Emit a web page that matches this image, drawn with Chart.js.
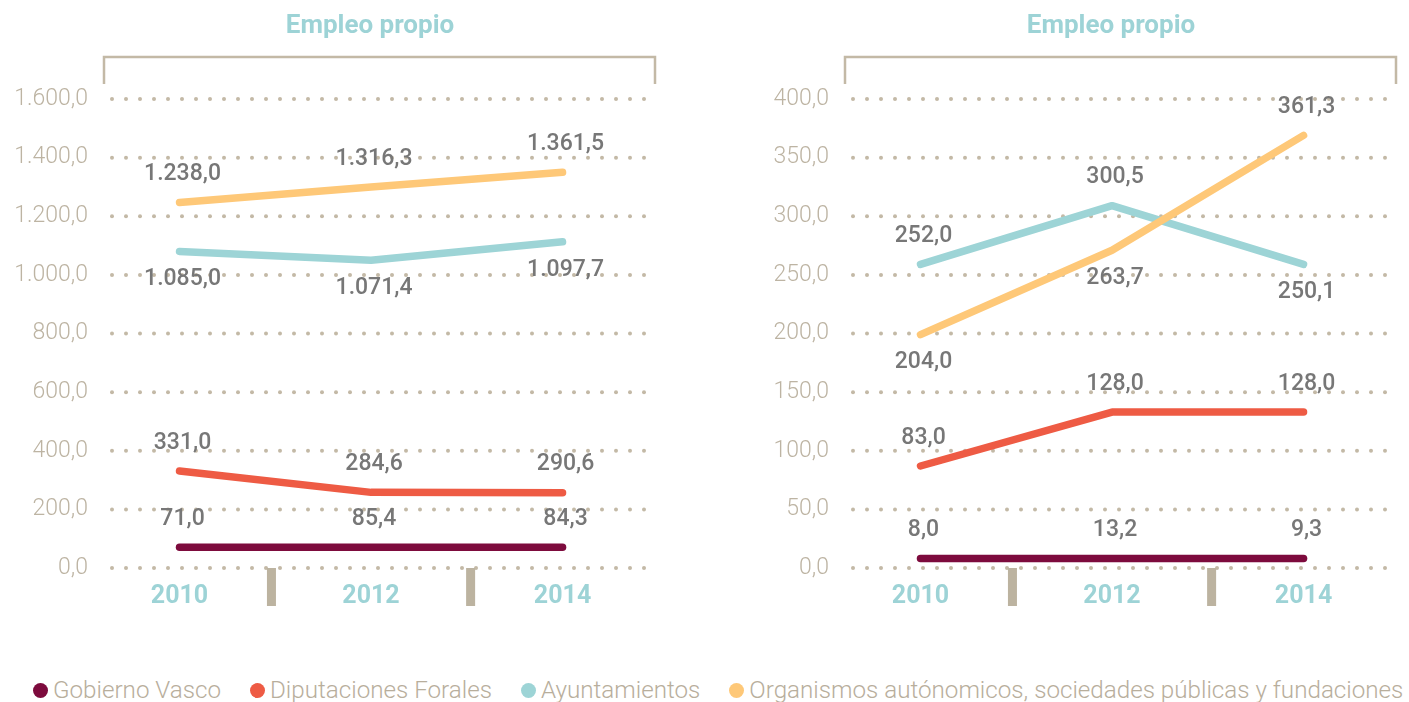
<!DOCTYPE html>
<html lang="es">
<head>
<meta charset="utf-8">
<title>Empleo propio</title>
<script src="https://cdn.jsdelivr.net/npm/chart.js@4.4.1/dist/chart.umd.min.js"></script>
<style>
  body { margin: 0; background: #fff; width: 1409px; height: 702px; overflow: hidden; position: relative; font-family: Roboto, sans-serif; }
  .panel { position: absolute; top: 0; width: 668px; height: 640px; }
  #legend { position: absolute; left: 33px; top: 676px; display: flex; align-items: center; white-space: nowrap;
            font-weight: 300; font-size: 24.2px; color: #b8ae9c; }
  .item { display: flex; align-items: center; margin-right: 29px; }
  .dot { width: 15px; height: 15px; border-radius: 50%; margin-right: 5px; }
</style>
</head>
<body>
<div class="panel" style="left:0"><canvas id="left" width="668" height="640"></canvas></div>
<div class="panel" style="left:741px"><canvas id="right" width="668" height="640"></canvas></div>
<div id="legend"></div>
<script>
var years = ['2010', '2012', '2014'];
var seriesNames = ['Gobierno Vasco', 'Diputaciones Forales', 'Ayuntamientos',
  'Organismos autónomicos, sociedades públicas y fundaciones'];
var seriesColors = ['#7d0b3d', '#ee5b44', '#9dd4d6', '#fec878'];

// left panel: line heights as drawn, and the values printed next to them
var leftGobierno = [71, 71, 71];
var leftDiputaciones = [331, 258, 257];
var leftAyuntamientos = [1080, 1050, 1113];
var leftOrganismos = [1247, 1300, 1350];

var leftGobiernoLabels = [71.0, 85.4, 84.3];
var leftDiputacionesLabels = [331.0, 284.6, 290.6];
var leftAyuntamientosLabels = [1085.0, 1071.4, 1097.7];
var leftOrganismosLabels = [1238.0, 1316.3, 1361.5];

var leftTicks = [0, 200, 400, 600, 800, 1000, 1200, 1400, 1600];

// right panel
var rightGobierno = [8, 8, 8];
var rightDiputaciones = [87, 133, 133];
var rightAyuntamientos = [259, 309, 259];
var rightOrganismos = [199, 271, 369];

var rightGobiernoLabels = [8.0, 13.2, 9.3];
var rightDiputacionesLabels = [83.0, 128.0, 128.0];
var rightAyuntamientosLabels = [252.0, 300.5, 250.1];
var rightOrganismosLabels = [204.0, 263.7, 361.3];

var rightTicks = [0, 50, 100, 150, 200, 250, 300, 350, 400];

// -1 = label above the point, 1 = below
var leftSides = [[-1, -1, -1], [-1, -1, -1], [1, 1, 1], [-1, -1, -1]];
var rightSides = [[-1, -1, -1], [-1, -1, -1], [-1, -1, 1], [1, 1, -1]];

var TEAL_TEXT = '#9dd3d6';
var BEIGE = '#c3b9a6';

function fmt(n) {
  var parts = n.toFixed(1).split('.');
  return parts[0].replace(/\B(?=(\d{3})+(?!\d))/g, '.') + ',' + parts[1];
}

var decor = {
  id: 'decor',
  beforeDatasetsDraw: function(chart) {
    var ctx = chart.ctx, ca = chart.chartArea, y = chart.scales.y;
    ctx.save();
    ctx.fillStyle = BEIGE;
    y.ticks.forEach(function(t) {
      var py = y.getPixelForValue(t.value);
      for (var px = ca.left + 2; px <= ca.right; px += 14) {
        ctx.beginPath();
        ctx.arc(px, py, 2, 0, Math.PI * 2);
        ctx.fill();
      }
    });
    ctx.restore();
  },
  afterDraw: function(chart) {
    var ctx = chart.ctx, ca = chart.chartArea, x = chart.scales.x;
    var opts = chart.options.plugins.decor;
    ctx.save();

    ctx.fillStyle = TEAL_TEXT;
    ctx.font = '700 26px Roboto';
    ctx.textAlign = 'center';
    ctx.textBaseline = 'middle';
    ctx.fillText('Empleo propio', (ca.left + ca.right) / 2 - 13, 26);

    ctx.strokeStyle = BEIGE;
    ctx.lineWidth = 2.5;
    ctx.beginPath();
    ctx.moveTo(ca.left - 6, 84);
    ctx.lineTo(ca.left - 6, 57);
    ctx.lineTo(ca.right - 1, 57);
    ctx.lineTo(ca.right - 1, 84);
    ctx.stroke();

    ctx.fillStyle = '#bcb3a0';
    [0.48, 1.52].forEach(function(v) {
      var px = x.getPixelForValue(v);
      ctx.fillRect(px - 4.5, ca.bottom, 9, 38);
    });

    ctx.fillStyle = '#777777';
    ctx.font = '500 23px Roboto';
    chart.data.datasets.forEach(function(ds, i) {
      var meta = chart.getDatasetMeta(i);
      meta.data.forEach(function(pt, j) {
        ctx.fillText(fmt(opts.labels[i][j]), pt.x + 3, pt.y + opts.sides[i][j] * 28);
      });
    });
    ctx.restore();
  }
};

function makeChart(id, values, labels, sides, ticks) {
  var datasets = values.map(function(v, i) {
    return {
      label: seriesNames[i],
      data: v.map(function(val, j) { return { x: j, y: val }; }),
      borderColor: seriesColors[i],
      backgroundColor: seriesColors[i],
      borderWidth: 7.5,
      borderCapStyle: 'round',
      borderJoinStyle: 'round',
      pointRadius: 0,
      tension: 0,
      order: values.length - i
    };
  });
  return new Chart(document.getElementById(id), {
    type: 'line',
    data: { datasets: datasets },
    plugins: [decor],
    options: {
      responsive: false,
      animation: false,
      layout: { padding: { top: 99, right: 12, left: 0, bottom: 0 } },
      plugins: {
        legend: { display: false },
        tooltip: { enabled: false },
        decor: { labels: labels, sides: sides }
      },
      scales: {
        x: {
          type: 'linear',
          min: -0.363,
          max: 2.488,
          grid: { display: false, drawTicks: false },
          border: { display: false },
          afterBuildTicks: function(s) {
            s.ticks = years.map(function(y, i) { return { value: i }; });
          },
          afterFit: function(s) { s.height = 72; },
          ticks: {
            padding: 14,
            color: TEAL_TEXT,
            font: { family: 'Roboto', size: 25, weight: '700' },
            callback: function(v) { return years[v]; }
          }
        },
        y: {
          min: ticks[0],
          max: ticks[ticks.length - 1],
          grid: { display: false, drawTicks: false },
          border: { display: false },
          afterBuildTicks: function(s) {
            s.ticks = ticks.map(function(t) { return { value: t }; });
          },
          afterFit: function(s) { s.width = 110; },
          ticks: {
            padding: 22,
            color: '#bdb4a3',
            font: { family: 'Roboto', size: 23, weight: '300' },
            callback: function(v) { return fmt(v); }
          }
        }
      }
    }
  });
}

makeChart('left',
  [leftGobierno, leftDiputaciones, leftAyuntamientos, leftOrganismos],
  [leftGobiernoLabels, leftDiputacionesLabels, leftAyuntamientosLabels, leftOrganismosLabels],
  leftSides, leftTicks);

makeChart('right',
  [rightGobierno, rightDiputaciones, rightAyuntamientos, rightOrganismos],
  [rightGobiernoLabels, rightDiputacionesLabels, rightAyuntamientosLabels, rightOrganismosLabels],
  rightSides, rightTicks);

var legend = document.getElementById('legend');
seriesNames.forEach(function(name, i) {
  var item = document.createElement('div');
  item.className = 'item';
  var dot = document.createElement('span');
  dot.className = 'dot';
  dot.style.background = seriesColors[i];
  var txt = document.createElement('span');
  txt.textContent = name;
  item.appendChild(dot);
  item.appendChild(txt);
  legend.appendChild(item);
});
</script>
</body>
</html>
